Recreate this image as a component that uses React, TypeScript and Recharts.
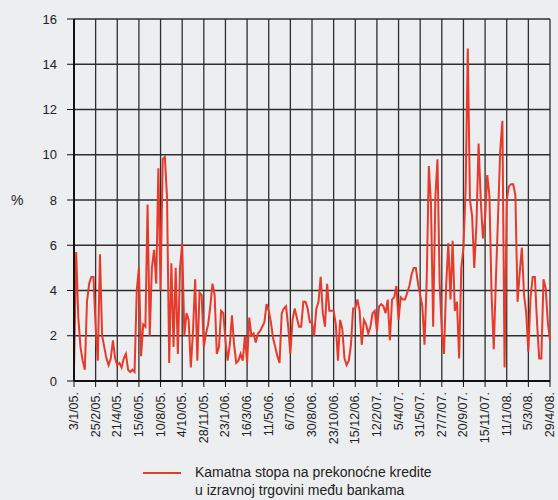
import { LineChart, Line, XAxis, YAxis, CartesianGrid } from 'recharts'

// one point every ~4 working days, 10 points between date ticks
const dateLabels = [
  '3/1/05.', '25/2/05.', '21/4/05.', '15/6/05.', '10/8/05.', '4/10/05.',
  '28/11/05.', '23/1/06.', '16/3/06.', '11/5/06.', '6/7/06.', '30/8/06.',
  '23/10/06.', '15/12/06.', '12/2/07.', '5/4/07.', '31/5/07.', '27/7/07.',
  '20/9/07.', '15/11/07.', '11/1/08.', '5/3/08.', '29/4/08.',
]

const rates = [
  0.5, 5.7, 2.8, 1.5, 0.9, 0.5, 3.5, 4.3, 4.6, 4.6,
  2.4, 0.9, 5.6, 2.0, 1.5, 1.0, 0.7, 1.0, 1.8, 1.0,
  0.7, 0.8, 0.6, 1.0, 1.2, 0.5, 0.4, 0.5, 0.4, 4.0,
  5.0, 1.1, 2.5, 2.4, 7.8, 2.0, 5.0, 5.8, 4.3, 9.4,
  4.0, 9.8, 9.9, 8.1, 0.8, 5.2, 1.5, 5.0, 1.2, 5.0,
  6.1, 2.0, 3.0, 2.7, 0.6, 2.2, 4.5, 0.9, 3.9, 3.8,
  1.5, 2.1, 2.5, 3.3, 4.3, 3.8, 1.2, 1.5, 3.1, 3.0,
  1.8, 0.9, 1.6, 2.9, 1.6, 0.8, 0.9, 1.2, 0.9, 2.0,
  0.8, 2.8, 2.0, 2.1, 1.7, 2.1, 2.2, 2.4, 2.6, 3.4,
  3.1, 2.6, 1.9, 1.5, 1.1, 0.8, 3.0, 3.2, 3.3, 2.4,
  1.2, 2.7, 3.2, 2.8, 2.4, 2.4, 3.5, 3.5, 3.2, 2.6,
  2.6, 2.0, 3.2, 3.5, 4.6, 3.0, 2.4, 4.3, 3.1, 3.1,
  3.1, 2.5, 0.9, 2.7, 2.3, 1.0, 0.7, 0.9, 1.6, 3.2,
  3.2, 3.6, 3.1, 1.6, 2.7, 2.5, 2.1, 2.4, 3.0, 3.1,
  2.2, 3.3, 3.4, 3.3, 3.0, 3.6, 1.8, 3.6, 3.7, 4.2,
  2.7, 3.7, 3.6, 3.6, 3.9, 4.2, 4.7, 5.0, 5.0, 4.3,
  3.8, 3.3, 1.6, 4.4, 9.5, 7.8, 2.4, 8.1, 9.8, 4.3,
  2.2, 1.2, 4.2, 6.1, 3.6, 6.2, 3.1, 3.5, 1.0, 5.0,
  5.9, 8.5, 14.7, 8.0, 7.3, 5.0, 6.9, 10.5, 8.0, 6.3,
  7.2, 9.1, 8.2, 3.8, 1.4, 4.5, 7.3, 10.2, 11.5, 0.6,
  8.0, 8.6, 8.7, 8.7, 8.2, 3.5, 4.8, 5.9, 3.8, 3.0,
  1.3, 3.7, 4.6, 4.6, 2.6, 1.0, 1.0, 4.5, 4.1, 2.6,
  1.8,
]

const yTicks = [0, 2, 4, 6, 8, 10, 12, 14, 16]
const legendLines = ['Kamatna stopa na prekonoćne kredite', 'u izravnoj trgovini među bankama']

const data = rates.map((v, i) => ({ i, v }))
const xTicks = dateLabels.map((_, k) => k * 10)

const font = '"Liberation Sans", Arial, sans-serif'
const red = '#e63a2b'

function DateTick({ x, y, payload }: { x: number; y: number; payload: { value: number } }) {
  return (
    <text
      x={x}
      y={y}
      transform={`rotate(-90, ${x}, ${y})`}
      textAnchor="end"
      dominantBaseline="central"
      fontSize={12.5}
      fill="#222"
      fontFamily={font}
    >
      {dateLabels[Math.round(payload.value / 10)]}
    </text>
  )
}

export default function App() {
  return (
    <div style={{ position: 'absolute', left: 0, top: 0, width: 558, height: 500, background: '#edeef0' }}>
      <LineChart width={558} height={500} data={data} margin={{ top: 19, right: 8, left: 0, bottom: 59 }}>
        <CartesianGrid stroke="#2e2e2e" strokeWidth={1.3} />
        <XAxis
          dataKey="i"
          type="number"
          domain={[0, 220]}
          ticks={xTicks}
          interval={0}
          height={60}
          tick={DateTick as any}
          tickSize={6}
          tickMargin={5}
          axisLine={{ stroke: '#111', strokeWidth: 2 }}
          tickLine={{ stroke: '#111' }}
        />
        <YAxis
          domain={[0, 16]}
          ticks={yTicks}
          width={74}
          tickSize={7}
          tickMargin={10}
          tick={{ fontSize: 13, fill: '#222', fontFamily: font }}
          axisLine={{ stroke: '#111', strokeWidth: 2 }}
          tickLine={{ stroke: '#111' }}
          label={{ value: '%', position: 'insideLeft', offset: 11, fontSize: 14, fill: '#222', fontFamily: font }}
        />
        <Line
          dataKey="v"
          type="linear"
          stroke={red}
          strokeWidth={2}
          dot={false}
          isAnimationActive={false}
        />
      </LineChart>
      <div style={{ position: 'absolute', left: 143, top: 463, fontFamily: font, fontSize: 14, lineHeight: '18px', color: '#222' }}>
        <div style={{ position: 'absolute', left: 0, top: 9, width: 38, height: 2, background: red }} />
        <div style={{ marginLeft: 52, whiteSpace: 'nowrap' }}>
          {legendLines.map((t) => (
            <div key={t}>{t}</div>
          ))}
        </div>
      </div>
    </div>
  )
}
